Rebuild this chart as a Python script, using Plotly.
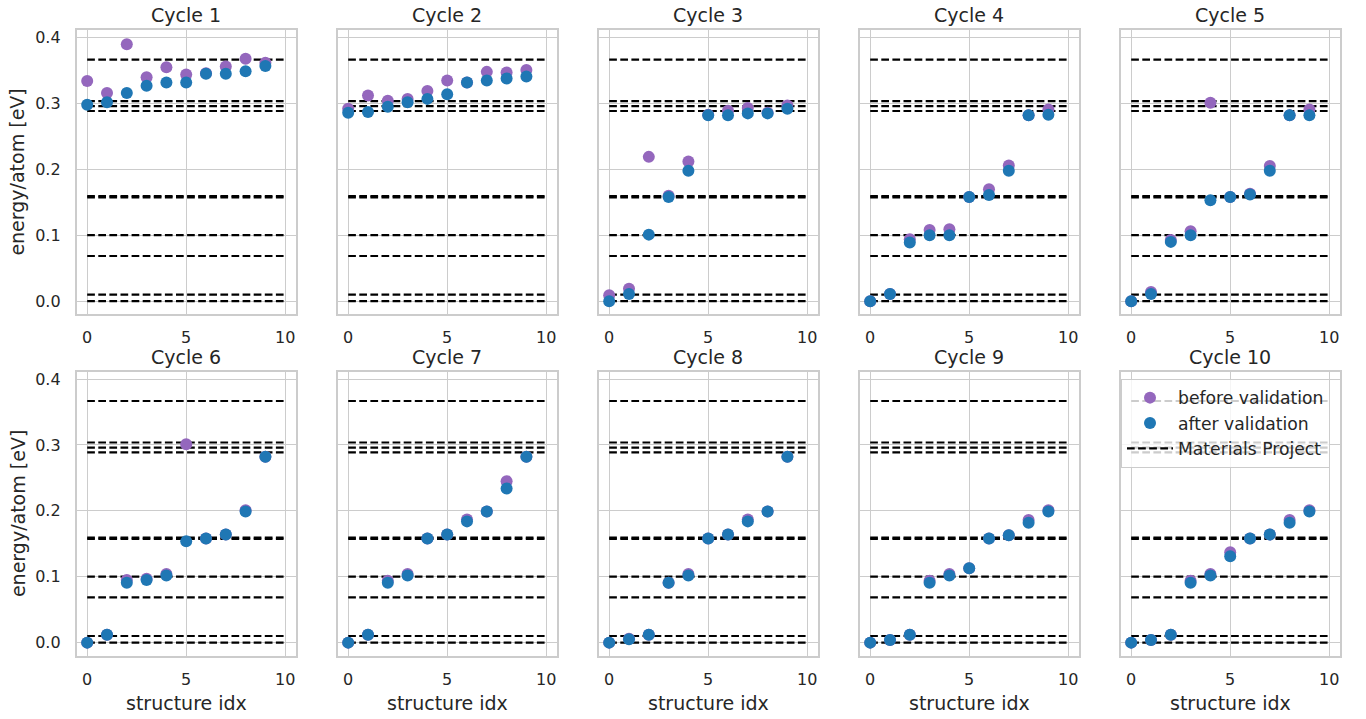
import plotly.graph_objects as go

W, H = 1366, 719

structure_idx = list(range(10))
cycle_titles = [f"Cycle {i}" for i in range(1, 11)]

# Materials Project reference energies (eV/atom)
mp_energies = [0.0, 0.0101, 0.0686, 0.1003, 0.1575, 0.1595, 0.2886, 0.2960, 0.3037, 0.3667]

cycle1_before = [0.334, 0.316, 0.390, 0.340, 0.355, 0.344, 0.346, 0.356, 0.368, 0.362]
cycle1_after = [0.298, 0.302, 0.316, 0.327, 0.332, 0.332, 0.345, 0.345, 0.349, 0.357]
cycle2_before = [0.292, 0.312, 0.304, 0.307, 0.319, 0.335, 0.332, 0.348, 0.347, 0.351]
cycle2_after = [0.286, 0.287, 0.295, 0.302, 0.307, 0.314, 0.332, 0.335, 0.338, 0.341]
cycle3_before = [0.009, 0.019, 0.219, 0.160, 0.212, 0.283, 0.289, 0.293, 0.286, 0.297]
cycle3_after = [0.000, 0.011, 0.101, 0.158, 0.198, 0.282, 0.282, 0.285, 0.285, 0.292]
cycle4_before = [0.000, 0.011, 0.094, 0.108, 0.109, 0.158, 0.170, 0.206, 0.282, 0.291]
cycle4_after = [0.000, 0.011, 0.089, 0.100, 0.100, 0.158, 0.161, 0.198, 0.282, 0.283]
cycle5_before = [0.000, 0.014, 0.093, 0.106, 0.301, 0.158, 0.163, 0.205, 0.282, 0.291]
cycle5_after = [0.000, 0.011, 0.090, 0.100, 0.153, 0.158, 0.162, 0.198, 0.282, 0.282]
cycle6_before = [0.000, 0.012, 0.095, 0.097, 0.104, 0.301, 0.158, 0.164, 0.201, 0.282]
cycle6_after = [0.000, 0.012, 0.091, 0.095, 0.102, 0.154, 0.158, 0.164, 0.199, 0.282]
cycle7_before = [0.000, 0.012, 0.094, 0.104, 0.158, 0.164, 0.187, 0.199, 0.245, 0.282]
cycle7_after = [0.000, 0.012, 0.091, 0.102, 0.158, 0.164, 0.184, 0.199, 0.234, 0.282]
cycle8_before = [0.000, 0.006, 0.012, 0.091, 0.104, 0.158, 0.164, 0.187, 0.199, 0.282]
cycle8_after = [0.000, 0.005, 0.012, 0.091, 0.102, 0.158, 0.164, 0.184, 0.199, 0.282]
cycle9_before = [0.000, 0.004, 0.012, 0.094, 0.104, 0.113, 0.158, 0.163, 0.186, 0.201]
cycle9_after = [0.000, 0.004, 0.012, 0.091, 0.102, 0.113, 0.158, 0.163, 0.182, 0.199]
cycle10_before = [0.000, 0.004, 0.012, 0.094, 0.104, 0.137, 0.158, 0.164, 0.186, 0.201]
cycle10_after = [0.000, 0.004, 0.012, 0.091, 0.102, 0.131, 0.158, 0.164, 0.182, 0.199]

befores = [cycle1_before, cycle2_before, cycle3_before, cycle4_before, cycle5_before,
           cycle6_before, cycle7_before, cycle8_before, cycle9_before, cycle10_before]
afters = [cycle1_after, cycle2_after, cycle3_after, cycle4_after, cycle5_after,
          cycle6_after, cycle7_after, cycle8_after, cycle9_after, cycle10_after]

PURPLE = "#9467bd"
BLUE = "#1f77b4"
GRID = "#cccccc"
TEXT = "#262626"
FONT = "DejaVu Sans"
TICK_SIZE = 16.0
LABEL_SIZE = 19.0
LEGEND_SIZE = 17.2

# panel geometry in pixels
lefts = [76.7 + 261.0 * i for i in range(5)]
pw = 219.0
row_tops = [28.3, 370.7]
ph = 285.0

fig = go.Figure()
layout = {}
annotations = []

for k in range(10):
    r, c = divmod(k, 5)
    n = k + 1
    xa = "x" if n == 1 else f"x{n}"
    ya = "y" if n == 1 else f"y{n}"
    x0 = lefts[c] / W
    x1 = (lefts[c] + pw) / W
    ytop = row_tops[r]
    y1 = 1 - ytop / H
    y0 = 1 - (ytop + ph) / H

    # Materials Project horizontal lines
    hx, hy = [], []
    for e in mp_energies:
        hx += [0, 10, None]
        hy += [e, e, None]
    fig.add_trace(go.Scatter(
        x=hx, y=hy, mode="lines", xaxis=xa, yaxis=ya,
        line=dict(color="black", width=2.2, dash="7.7px,3.4px"),
        name="Materials Project", legendrank=3,
        showlegend=(k == 9), hoverinfo="skip"))
    fig.add_trace(go.Scatter(
        x=structure_idx, y=befores[k], mode="markers", xaxis=xa, yaxis=ya,
        marker=dict(color=PURPLE, size=12, line=dict(width=0)),
        name="before validation", legendrank=1,
        showlegend=(k == 9)))
    fig.add_trace(go.Scatter(
        x=structure_idx, y=afters[k], mode="markers", xaxis=xa, yaxis=ya,
        marker=dict(color=BLUE, size=12, line=dict(width=0)),
        name="after validation", legendrank=2,
        showlegend=(k == 9)))

    axkey = "xaxis" if n == 1 else f"xaxis{n}"
    aykey = "yaxis" if n == 1 else f"yaxis{n}"
    layout[axkey] = dict(
        domain=[x0, x1], anchor=ya, range=[-0.53, 10.53],
        tickvals=[0, 5, 10], ticktext=["0", "5", "10"],
        showgrid=True, gridcolor=GRID, gridwidth=1.3,
        zeroline=False, showline=True, linecolor=GRID, linewidth=1.7, mirror=True,
        ticks="outside", ticklen=8, tickcolor="rgba(0,0,0,0)",
        tickfont=dict(family=FONT, size=TICK_SIZE, color=TEXT))
    layout[aykey] = dict(
        domain=[y0, y1], anchor=xa, range=[-0.0201, 0.4112],
        tickvals=[0, 0.1, 0.2, 0.3, 0.4],
        ticktext=["0.0", "0.1", "0.2", "0.3", "0.4"],
        showticklabels=(c == 0),
        showgrid=True, gridcolor=GRID, gridwidth=1.3,
        zeroline=False, showline=True, linecolor=GRID, linewidth=1.7, mirror=True,
        ticks="outside", ticklen=11, tickcolor="rgba(0,0,0,0)",
        tickfont=dict(family=FONT, size=TICK_SIZE, color=TEXT))

    # subplot title
    annotations.append(dict(
        text=cycle_titles[k], xref="paper", yref="paper",
        x=(lefts[c] + pw / 2) / W, y=1 - (ytop - 14.8) / H,
        xanchor="center", yanchor="middle", showarrow=False,
        font=dict(family=FONT, size=LABEL_SIZE, color=TEXT)))
    if r == 1:
        annotations.append(dict(
            text="structure idx", xref="paper", yref="paper",
            x=(lefts[c] + pw / 2) / W, y=1 - 703.3 / H,
            xanchor="center", yanchor="middle", showarrow=False,
            font=dict(family=FONT, size=LABEL_SIZE, color=TEXT)))
    if c == 0:
        annotations.append(dict(
            text="energy/atom [eV]", xref="paper", yref="paper",
            x=17.3 / W, y=1 - (ytop + ph / 2) / H, textangle=-90,
            xanchor="center", yanchor="middle", showarrow=False,
            font=dict(family=FONT, size=LABEL_SIZE, color=TEXT)))

fig.update_layout(
    width=W, height=H,
    margin=dict(l=0, r=0, t=0, b=0),
    paper_bgcolor="white", plot_bgcolor="white",
    font=dict(family=FONT, color=TEXT),
    annotations=annotations,
    legend=dict(
        x=1330 / W, xanchor="right", y=1 - 378 / H, yanchor="top",
        bgcolor="rgba(255,255,255,0.8)", bordercolor=GRID, borderwidth=1,
        font=dict(family=FONT, size=LEGEND_SIZE, color=TEXT),
        itemwidth=46, tracegroupgap=0),
    showlegend=True,
    **layout)

fig.write_html("out.html")
